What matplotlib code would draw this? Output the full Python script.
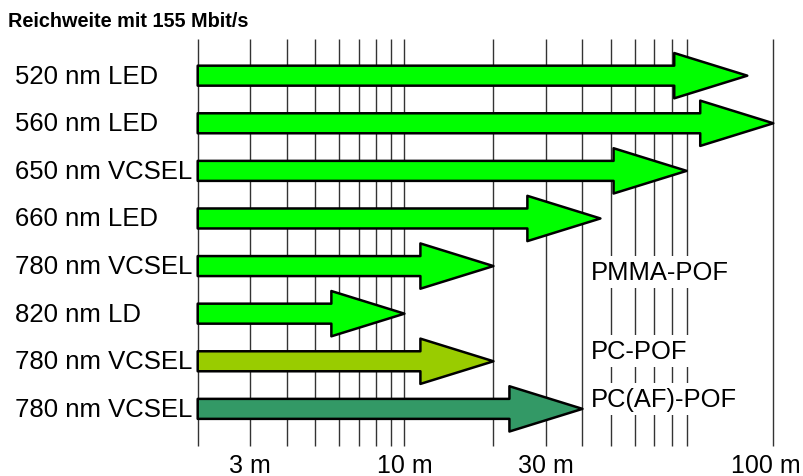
import numpy as np
import matplotlib
matplotlib.use("Agg")
import matplotlib.pyplot as plt
from matplotlib.transforms import blended_transform_factory, ScaledTranslation

plt.rcParams['font.family'] = ['Liberation Sans', 'DejaVu Sans']

# data
sources = ['520 nm LED', '560 nm LED', '650 nm VCSEL', '660 nm LED',
           '780 nm VCSEL', '820 nm LD', '780 nm VCSEL', '780 nm VCSEL']
reach_m = [97, 100, 90, 46, 20, 10, 20, 40]
colors = ['#00ff00'] * 6 + ['#99cc00', '#339966']
start_m = 2
grid_m = [2, 3, 4, 5, 6, 7, 8, 9, 10, 20, 30, 40, 50, 60, 70, 80, 90, 100]
tick_m = [3, 10, 30, 100]
tick_labels = ['3 m', '10 m', '30 m', '100 m']
fibres = ['PMMA-POF', 'PC-POF', 'PC(AF)-POF']
fibre_y = [4.12, 5.78, 6.79]

# log axis, but the last step 90 -> 100 m is drawn wider (as in the original)
LOG90 = np.log10(90)
K = 0.0293


def fwd(x):
    x = np.asarray(x, float)
    with np.errstate(divide='ignore', invalid='ignore'):
        return np.where(x <= 90, np.log10(x), LOG90 + (x - 90) * K)


def inv(y):
    y = np.asarray(y, float)
    with np.errstate(over='ignore'):
        return np.where(y <= LOG90, 10 ** y, 90 + (y - LOG90) / K)


fig = plt.figure(figsize=(8.04, 4.77), dpi=100)
ax = fig.add_axes([0.2459, 0.0629, 0.7159, 0.8532])
ax.set_xscale('function', functions=(fwd, inv))
ax.set_xlim(2, 100)
ax.set_ylim(7.78, -0.77)
for s in ax.spines.values():
    s.set_visible(False)

ax.vlines(grid_m, 7.78, -0.77, colors='#333333', lw=1.0, zorder=0, clip_on=False)

ax.set_xticks(tick_m)
ax.set_xticklabels(tick_labels, fontsize=18)
ax.xaxis.set_minor_locator(plt.NullLocator())
ax.tick_params(axis='x', length=0, pad=5)
ax.set_yticks([])
# keep "100 m" inside the picture
last = ax.get_xticklabels()[-1]
last.set_transform(last.get_transform() + ScaledTranslation(-7 / 100, 0, fig.dpi_scale_trans))

for i in range(len(sources)):
    ax.annotate('', xy=(reach_m[i], i), xytext=(start_m, i),
                arrowprops=dict(arrowstyle='simple,head_length=52.6,head_width=32.6,tail_width=14.4',
                                mutation_scale=1, fc=colors[i], ec='black', lw=1.8,
                                shrinkA=0, shrinkB=0), zorder=2)

trans = blended_transform_factory(fig.transFigure, ax.transData)
for i, name in enumerate(sources):
    ax.text(15 / 804, i, name, transform=trans, ha='left', va='center', fontsize=18.5)

for name, y in zip(fibres, fibre_y):
    ax.text(42.7, y, name, ha='left', va='center', fontsize=18.4, zorder=3,
            bbox=dict(fc='white', ec='none', pad=3))

fig.text(8 / 804, 0.944, 'Reichweite mit 155 Mbit/s', fontsize=14.3, fontweight='bold',
         ha='left', va='baseline')

fig.savefig('out.png', dpi=100)
